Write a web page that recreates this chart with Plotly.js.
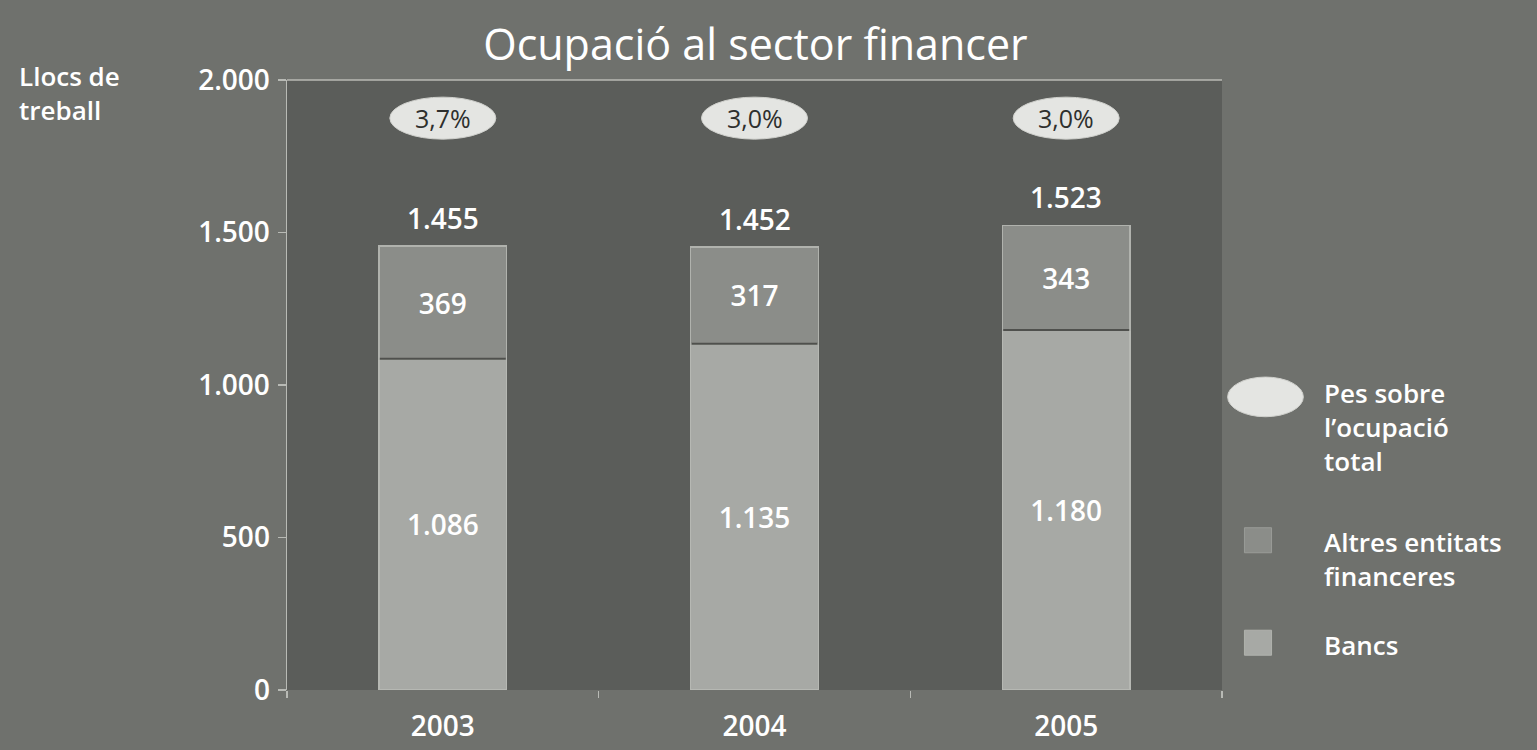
<!DOCTYPE html>
<html>
<head>
<meta charset="utf-8">
<script src="https://cdn.plot.ly/plotly-3.0.1.min.js"></script>
<style>html,body{margin:0;padding:0;background:#6f716d;}#chart{width:1537px;height:750px;}</style>
</head>
<body>
<div id="chart"></div>
<script>
const years = ['2003', '2004', '2005'];
const bancs = [1086, 1135, 1180];
const altres = [369, 317, 343];
const totals = [1455, 1452, 1523];
const pesLabels = ['3,7%', '3,0%', '3,0%'];
const pesY = 1875;
const yTicks = [0, 500, 1000, 1500, 2000];

const FONT = '"Open Sans", Lato, sans-serif';
const txt = {family: FONT, size: 28, color: '#ffffff', weight: 600};

const fmt = v => v.toLocaleString('de-DE');

const traces = [
  {type: 'bar', name: 'Bancs', x: years, y: bancs,
   marker: {color: '#a7a9a5', line: {color: '#b6b8b3', width: 1.5}},
   width: 0.41, texttemplate: '%{y:,}', textposition: 'inside',
   insidetextanchor: 'middle', textangle: 0, constraintext: 'none',
   textfont: txt, showlegend: false, hoverinfo: 'x+y'},
  {type: 'bar', name: 'Altres entitats financeres', x: years, y: altres,
   marker: {color: '#8b8d89', line: {color: '#b0b2ad', width: 1.5}},
   width: 0.41, texttemplate: '%{y:,}', textposition: 'inside',
   insidetextanchor: 'middle', textangle: 0, constraintext: 'none',
   textfont: txt, showlegend: false, hoverinfo: 'x+y'}
];

const shapes = years.map((c, i) => ({
  type: 'circle', xref: 'x', yref: 'y', xsizemode: 'pixel', ysizemode: 'pixel',
  xanchor: i, yanchor: pesY, x0: -53, x1: 53, y0: -21, y1: 21,
  fillcolor: '#e4e5e2', line: {color: '#cfd0cc', width: 1}, layer: 'above'
}));
// dark separator between the two stacked segments
years.forEach((c, i) => shapes.push({
  type: 'line', xref: 'x', yref: 'y', xsizemode: 'pixel', xanchor: i, x0: -63, x1: 63,
  y0: bancs[i], y1: bancs[i], line: {color: '#4f504d', width: 2}, layer: 'above'
}));
// top frame line
shapes.push({type: 'line', xref: 'paper', yref: 'paper', x0: 0, x1: 1, y0: 1, y1: 1,
  line: {color: '#b8bab5', width: 1.5}});
// custom legend
shapes.push({type: 'circle', xref: 'paper', yref: 'paper', x0: 1.006, x1: 1.087, y0: 0.448, y1: 0.513,
  fillcolor: '#e4e5e2', line: {color: '#cfd0cc', width: 1}});
shapes.push({type: 'rect', xref: 'paper', yref: 'paper', x0: 1.024, x1: 1.053, y0: 0.225, y1: 0.266,
  fillcolor: '#8b8d89', line: {color: '#9a9c98', width: 1}});
shapes.push({type: 'rect', xref: 'paper', yref: 'paper', x0: 1.024, x1: 1.053, y0: 0.057, y1: 0.098,
  fillcolor: '#a7a9a5', line: {color: '#b0b2ad', width: 1}});

const legFont = {family: FONT, size: 26, color: '#ffffff', weight: 600};
const annotations = [
  {xref: 'paper', yref: 'paper', x: -0.289, y: 1.04, xanchor: 'left', yanchor: 'top', align: 'left',
   text: 'Llocs de<br>treball', showarrow: false, font: {family: FONT, size: 26, color: '#ffffff', weight: 600}},
  {xref: 'paper', yref: 'paper', x: 1.107, y: 0.52, xanchor: 'left', yanchor: 'top', align: 'left',
   text: 'Pes sobre<br>l\u2019ocupació<br>total', showarrow: false, font: legFont},
  {xref: 'paper', yref: 'paper', x: 1.107, y: 0.275, xanchor: 'left', yanchor: 'top', align: 'left',
   text: 'Altres entitats<br>financeres', showarrow: false, font: legFont},
  {xref: 'paper', yref: 'paper', x: 1.107, y: 0.074, xanchor: 'left', yanchor: 'middle', align: 'left',
   text: 'Bancs', showarrow: false, font: legFont}
];
// total labels above bars
years.forEach((c, i) => annotations.push({
  xref: 'x', yref: 'y', x: i, y: totals[i], yanchor: 'middle', yshift: 28,
  text: fmt(totals[i]), showarrow: false, font: txt
}));
// percentage labels in ellipses
years.forEach((c, i) => annotations.push({
  xref: 'x', yref: 'y', x: i, y: pesY, yanchor: 'middle',
  text: pesLabels[i], showarrow: false, font: {family: FONT, size: 25, color: '#2e2f2d', weight: 500}
}));

const layout = {
  width: 1537, height: 750,
  paper_bgcolor: '#6f716d', plot_bgcolor: '#5b5d5a',
  margin: {l: 287, r: 315, t: 80, b: 60},
  separators: ',.',
  barmode: 'stack',
  showlegend: false,
  title: {text: 'Ocupació al sector financer', x: 0.4915, xanchor: 'center', y: 0.94, yanchor: 'middle',
          font: {family: FONT, size: 43, color: '#ffffff'}},
  xaxis: {type: 'category', range: [-0.5, 2.5], tickson: 'boundaries', ticks: 'outside',
          ticklen: 7, tickcolor: '#b8bab5', tickwidth: 1.5, showline: false, showgrid: false,
          zeroline: false, ticklabelstandoff: 17,
          tickfont: {family: FONT, size: 28, color: '#ffffff', weight: 600}},
  yaxis: {range: [0, 2000], tickvals: yTicks, separatethousands: true, tickformat: ',',
          ticks: 'outside', ticklen: 8, tickcolor: '#b8bab5', tickwidth: 1.5,
          showline: true, linecolor: '#b8bab5', linewidth: 1.5, showgrid: false, zeroline: false,
          ticklabelstandoff: 2, tickfont: {family: FONT, size: 28, color: '#ffffff', weight: 600}},
  shapes: shapes,
  annotations: annotations
};

Plotly.newPlot('chart', traces, layout, {displayModeBar: false, staticPlot: true});
</script>
</body>
</html>
